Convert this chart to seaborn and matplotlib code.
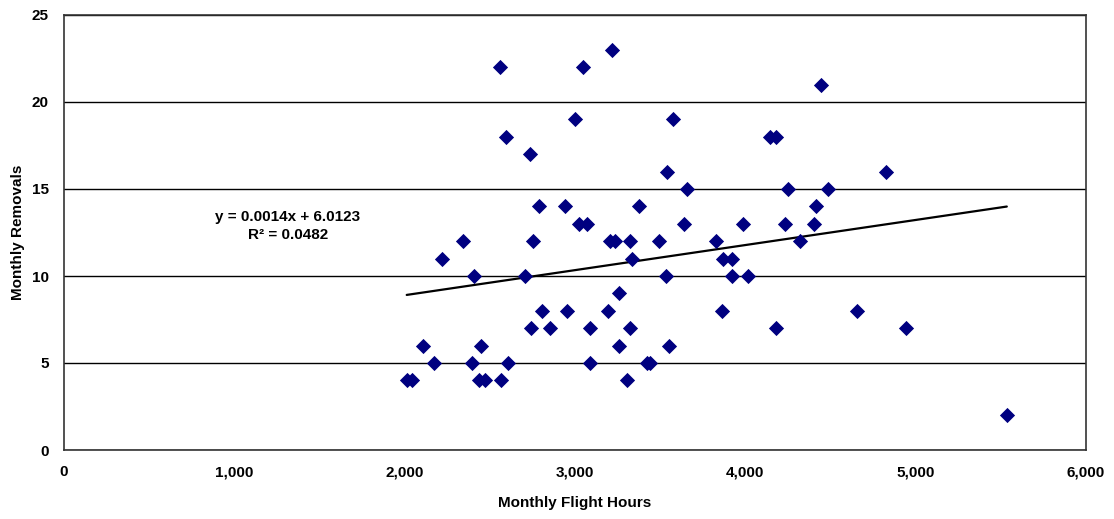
import numpy as np
import pandas as pd
import matplotlib
matplotlib.use("Agg")
import matplotlib.pyplot as plt
import matplotlib.ticker as mticker
import seaborn as sns

flight_hours = [2012, 2042, 2110, 2173, 2221, 2345, 2407, 2397, 2437, 2449,
                2472, 2560, 2564, 2594, 2605, 2707, 2735, 2742, 2756, 2787,
                2805, 2856, 2944, 2952, 3002, 3026, 3046, 3069, 3089, 3089,
                3194, 3206, 3220, 3235, 3261, 3261, 3304, 3324, 3324, 3337,
                3375, 3422, 3441, 3496, 3533, 3539, 3554, 3574, 3637, 3656,
                3829, 3862, 3868, 3921, 3921, 3985, 4018, 4146, 4181, 4181,
                4234, 4253, 4322, 4406, 4416, 4443, 4488, 4658, 4823, 4944,
                5535]
removals = [4, 4, 6, 5, 11, 12, 10, 5, 4, 6,
            4, 22, 4, 18, 5, 10, 17, 7, 12, 14,
            8, 7, 14, 8, 19, 13, 22, 13, 7, 5,
            8, 12, 23, 12, 9, 6, 4, 12, 7, 11,
            14, 5, 5, 12, 10, 16, 6, 19, 13, 15,
            12, 8, 11, 11, 10, 13, 10, 18, 18, 7,
            13, 15, 12, 13, 14, 21, 15, 8, 16, 7,
            2]

x_ticks = [0, 1000, 2000, 3000, 4000, 5000, 6000]
y_ticks = [0, 5, 10, 15, 20, 25]
equation_text = "y = 0.0014x + 6.0123\nR\u00b2 = 0.0482"

df = pd.DataFrame({"Monthly Flight Hours": flight_hours, "Monthly Removals": removals})

sns.set_style("white")
plt.rcParams['font.family'] = ['Liberation Sans', 'DejaVu Sans']
plt.rcParams['font.weight'] = 'bold'
plt.rcParams['text.color'] = 'black'
plt.rcParams['axes.labelcolor'] = 'black'
plt.rcParams['xtick.color'] = 'black'
plt.rcParams['ytick.color'] = 'black'

fig = plt.figure(figsize=(11.14, 5.19), dpi=100)
ax = fig.add_axes([64/1114, 1 - 450/519, (1086-64)/1114, (450-15)/519])

sns.regplot(data=df, x="Monthly Flight Hours", y="Monthly Removals", ax=ax,
            scatter=False, ci=None, color="black", line_kws={"linewidth": 1.6})
sns.scatterplot(data=df, x="Monthly Flight Hours", y="Monthly Removals", ax=ax,
                marker="D", s=60, color="#000080", linewidth=0, zorder=3)

ax.set_xlim(0, 6000)
ax.set_ylim(0, 25)
ax.set_xticks(x_ticks)
ax.set_yticks(y_ticks)
ax.xaxis.set_major_formatter(mticker.FuncFormatter(lambda v, p: f"{int(v):,}"))
ax.yaxis.grid(True, color="black", linewidth=1.0)
ax.xaxis.grid(False)
ax.set_axisbelow(True)
for s in ax.spines.values():
    s.set_visible(True)
    s.set_color("#333333")
    s.set_linewidth(1.2)
ax.tick_params(axis="both", direction="out", length=4, width=1, color="#333333",
               labelsize=11, pad=7, labelcolor="black")
for lab in ax.get_xticklabels() + ax.get_yticklabels():
    lab.set_fontweight("bold")
ax.set_xlabel("Monthly Flight Hours", fontsize=11, fontweight="bold")
ax.set_ylabel("Monthly Removals", fontsize=11, fontweight="bold")
ax.xaxis.set_label_coords(0.5, -0.122)
ax.yaxis.set_label_coords(-0.045, 0.5)
ax.xaxis.label.set_va("center")
ax.yaxis.label.set_va("center")

ax.text(1315, 12.85, equation_text, ha="center", va="center", fontsize=11,
        fontweight="bold", linespacing=1.35)

fig.savefig("out.png", dpi=100)
